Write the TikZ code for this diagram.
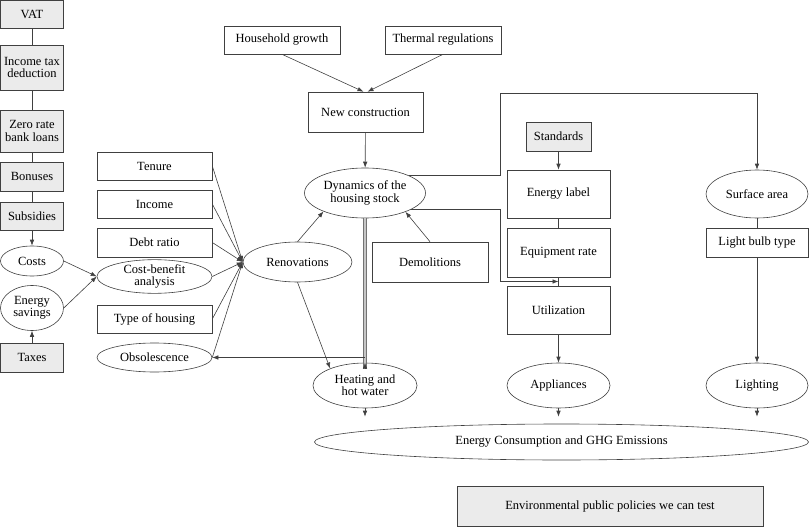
\documentclass[tikz,border=0pt]{standalone}
\usepackage{fontspec}
\setmainfont{Liberation Serif}
\usetikzlibrary{arrows.meta,shapes.geometric}

\definecolor{linegray}{HTML}{404040}
\definecolor{policygray}{HTML}{EBEBEB}
\tikzset{
	box/.style={draw=linegray, line width=0.6pt, rectangle, inner sep=0pt, align=center},
	policy/.style={box, fill=policygray},
	oval/.style={draw=linegray, line width=0.6pt, ellipse, inner sep=0pt, align=center},
	link/.style={draw=linegray, line width=0.6pt},
	arr/.style={link, -{Latex[length=6pt,width=4.5pt]}}
}

\begin{document}
\begin{tikzpicture}[x=1pt, y=-1pt, font=\fontsize{12.5}{12.3}\selectfont]
\useasboundingbox (0,0) rectangle (809,527);

% policy column
\node[policy, minimum width=63pt, minimum height=28pt] (vat) at (32,14) {VAT};
\node[policy, minimum width=63pt, minimum height=45pt] (itd) at (32,67.5) {Income tax\\deduction};
\node[policy, minimum width=63pt, minimum height=42pt] (zrl) at (32,131) {Zero rate\\bank loans};
\node[policy, minimum width=63pt, minimum height=29pt] (bon) at (32,176.5) {Bonuses};
\node[policy, minimum width=63pt, minimum height=28pt] (sub) at (32,216) {Subsidies};
\node[oval, minimum width=63pt, minimum height=30pt] (costs) at (32,261) {Costs};
\node[oval, minimum width=63pt, minimum height=45pt] (esav) at (32,308) {Energy\\savings};
\node[policy, minimum width=63pt, minimum height=29pt] (tax) at (32,357.5) {Taxes};

% renovation drivers
\node[box, minimum width=115pt, minimum height=28pt] (tenure) at (154.5,166) {Tenure};
\node[box, minimum width=115pt, minimum height=28pt] (income) at (154.5,204) {Income};
\node[box, minimum width=115pt, minimum height=29pt] (debt) at (154.5,242.5) {Debt ratio};
\node[oval, minimum width=115pt, minimum height=33pt] (cba) at (154.5,276.5) {Cost-benefit\\analysis};
\node[box, minimum width=115pt, minimum height=28pt] (toh) at (154.5,319) {Type of housing};
\node[oval, minimum width=115pt, minimum height=29pt] (obs) at (154.5,357.5) {Obsolescence};

% housing stock
\node[box, minimum width=116pt, minimum height=28pt] (hg) at (282,40) {Household growth};
\node[box, minimum width=116pt, minimum height=28pt] (tr) at (443,40) {Thermal regulations};
\node[box, minimum width=115pt, minimum height=40pt] (newc) at (365.5,112) {New construction};
\node[oval, minimum width=121pt, minimum height=50pt] (dyn) at (365,193) {Dynamics of the\\housing stock};
\node[oval, minimum width=109pt, minimum height=40pt] (reno) at (297.5,262) {Renovations};
\node[box, minimum width=116pt, minimum height=40pt] (demo) at (430,262) {Demolitions};
\node[oval, minimum width=104pt, minimum height=45pt] (heat) at (365,385.5) {Heating and\\hot water};

% appliances
\node[policy, minimum width=65pt, minimum height=29pt] (std) at (558.5,136.5) {Standards};
\node[box, minimum width=103pt, minimum height=48pt] (elab) at (558.5,194) {Energy label};
\node[box, minimum width=103pt, minimum height=49pt] (eqr) at (558.5,252.5) {Equipment rate};
\node[box, minimum width=103pt, minimum height=48pt] (util) at (558.5,310) {Utilization};
\node[oval, minimum width=103pt, minimum height=45pt] (appl) at (558.5,385.5) {Appliances};

% lighting
\node[oval, minimum width=102pt, minimum height=48pt] (surf) at (757,194) {Surface area};
\node[box, minimum width=102pt, minimum height=29pt] (bulb) at (757,242.5) {Light bulb type};
\node[oval, minimum width=102pt, minimum height=45pt] (light) at (757,385.5) {Lighting};

\node[oval, minimum width=494pt, minimum height=36pt] (ecghg) at (561.5,442) {Energy Consumption and GHG Emissions};
\node[policy, minimum width=306pt, minimum height=40pt] (env) at (610,506) {Environmental public policies we can test};

% connectors
\foreach \a/\b in {vat/itd,itd/zrl,zrl/bon,bon/sub,elab/eqr,eqr/util,surf/bulb}
	\draw[link] (\a) -- (\b);
\draw[arr] (sub) -- (costs);
\draw[arr] (tax) -- (esav);
\draw[arr] (costs.east) -- (cba.west);
\draw[arr] (esav.east) -- (cba.west);
\foreach \n in {tenure,income,debt,cba,toh,obs}
	\draw[arr] (\n.east) -- (reno.west);

\draw[arr] (hg.south) -- ([xshift=-2pt]newc.north);
\draw[arr] (tr.south) -- ([xshift=2pt]newc.north);
\draw[arr] (newc) -- (dyn);
\draw[arr] (reno.north) -- (dyn.204);
\draw[arr] (demo.north) -- (dyn.335);
\draw[arr] (reno.south) -- (heat.154);
\draw[draw=gray!90!black, line width=0.5pt, double=gray!45, double distance=2.5pt] (dyn.south) -- ([yshift=-6pt]heat.north);
\draw[arr] ([yshift=-6pt]heat.north) -- (heat.north);
\coordinate (split) at (heat.north |- obs.east);
\draw[arr] (split) -- (obs.east);

\coordinate (upturn) at (500,93);
\coordinate (bend) at (500,281.5);
\coordinate (join) at (558.5,281.5);
\draw[arr] (dyn.22) -| (upturn) -| (surf.north);
\draw[arr] (dyn.340) -| (bend) -- (join);

\draw[arr] (std) -- (elab);
\draw[arr] (util) -- (appl);
\draw[arr] (bulb) -- (light);
\foreach \n in {heat,appl,light}
	\draw[arr, shorten >=7pt] (\n.south) -- (\n.south |- ecghg.north);

\end{tikzpicture}
\end{document}
